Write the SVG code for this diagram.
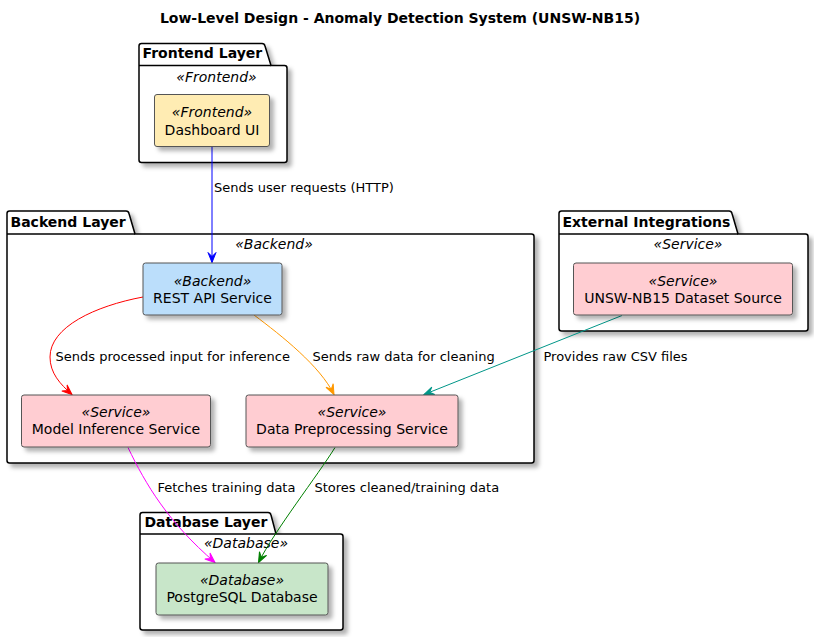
<svg xmlns="http://www.w3.org/2000/svg" width="814" height="637" viewBox="0 0 814 637">
<style>
  text { font-family: "DejaVu Sans", "Liberation Sans", sans-serif; fill: #000; }
  .title { font-size: 14px; font-weight: bold; }
  .pkg { fill: #fff; stroke: #000; stroke-width: 1.5; }
  .pkgline { fill: none; stroke: #000; stroke-width: 1.5; }
  .tab { font-size: 14px; font-weight: bold; }
  .ster { font-size: 14px; font-style: italic; text-anchor: middle; }
  .name { font-size: 14px; text-anchor: middle; }
  .node { stroke: #555; stroke-width: 1; }
  .fe { fill: #FFECB3; }
  .be { fill: #BBDEFB; }
  .sv { fill: #FFCDD2; }
  .db { fill: #C8E6C9; }
  .lbl { font-size: 13px; }
  .edge { fill: none; stroke-width: 1; }
</style>
<defs>
  <filter id="shadow" x="-10%" y="-10%" width="130%" height="140%">
    <feDropShadow dx="4" dy="4" stdDeviation="2" flood-color="#000" flood-opacity="0.3"/>
  </filter>
  <marker id="ah-blue" viewBox="-11 -6 12 12" markerWidth="12" markerHeight="12" refX="0" refY="0" orient="auto" markerUnits="userSpaceOnUse"><path d="M0,0 L-10,-4 L-6,0 L-10,4 Z" fill="#0000FF" stroke="#0000FF" stroke-width="1"/></marker>
  <marker id="ah-red" viewBox="-11 -6 12 12" markerWidth="12" markerHeight="12" refX="0" refY="0" orient="auto" markerUnits="userSpaceOnUse"><path d="M0,0 L-10,-4 L-6,0 L-10,4 Z" fill="#FF0000" stroke="#FF0000" stroke-width="1"/></marker>
  <marker id="ah-orange" viewBox="-11 -6 12 12" markerWidth="12" markerHeight="12" refX="0" refY="0" orient="auto" markerUnits="userSpaceOnUse"><path d="M0,0 L-10,-4 L-6,0 L-10,4 Z" fill="#FF9800" stroke="#FF9800" stroke-width="1"/></marker>
  <marker id="ah-teal" viewBox="-11 -6 12 12" markerWidth="12" markerHeight="12" refX="0" refY="0" orient="auto" markerUnits="userSpaceOnUse"><path d="M0,0 L-10,-4 L-6,0 L-10,4 Z" fill="#009688" stroke="#009688" stroke-width="1"/></marker>
  <marker id="ah-magenta" viewBox="-11 -6 12 12" markerWidth="12" markerHeight="12" refX="0" refY="0" orient="auto" markerUnits="userSpaceOnUse"><path d="M0,0 L-10,-4 L-6,0 L-10,4 Z" fill="#FF00FF" stroke="#FF00FF" stroke-width="1"/></marker>
  <marker id="ah-green" viewBox="-11 -6 12 12" markerWidth="12" markerHeight="12" refX="0" refY="0" orient="auto" markerUnits="userSpaceOnUse"><path d="M0,0 L-10,-4 L-6,0 L-10,4 Z" fill="#008000" stroke="#008000" stroke-width="1"/></marker>
</defs>

<rect width="814" height="637" fill="#fff"/>
<text class="title" x="400" y="23" text-anchor="middle">Low-Level Design - Anomaly Detection System (UNSW-NB15)</text>

<!-- Packages -->
<g id="pkg-frontend">
  <path class="pkg" filter="url(#shadow)" d="M141.5,43.5 L262,43.5 Q264.5,43.5 265,46 L271,65.5 L284.5,65.5 Q287,65.5 287,68 L287,160 Q287,162.5 284.5,162.5 L141.5,162.5 Q139,162.5 139,160 L139,46 Q139,43.5 141.5,43.5 Z"/>
  <path class="pkgline" d="M139,65.5 L271,65.5"/>
  <text class="tab" x="142.5" y="57.5">Frontend Layer</text>
  <text class="ster" x="216.5" y="81.5">«Frontend»</text>
</g>
<g id="pkg-backend">
  <path class="pkg" filter="url(#shadow)" d="M9.5,211 L126,211 Q128.5,211 129,213.5 L135,234 L531.5,234 Q534,234 534,236.5 L534,460.5 Q534,463 531.5,463 L9.5,463 Q7,463 7,460.5 L7,213.5 Q7,211 9.5,211 Z"/>
  <path class="pkgline" d="M7,234 L135,234"/>
  <text class="tab" x="10.5" y="227">Backend Layer</text>
  <text class="ster" x="274" y="249">«Backend»</text>
</g>
<g id="pkg-external">
  <path class="pkg" filter="url(#shadow)" d="M561.5,211 L729,211 Q731.5,211 732,213.5 L738,234 L805.5,234 Q808,234 808,236.5 L808,328.5 Q808,331 805.5,331 L561.5,331 Q559,331 559,328.5 L559,213.5 Q559,211 561.5,211 Z"/>
  <path class="pkgline" d="M559,234 L738,234"/>
  <text class="tab" x="562.5" y="227">External Integrations</text>
  <text class="ster" x="688" y="249">«Service»</text>
</g>
<g id="pkg-database">
  <path class="pkg" filter="url(#shadow)" d="M142.5,512.5 L268,512.5 Q270.5,512.5 271,515 L276,534 L340.5,534 Q343,534 343,536.5 L343,627.5 Q343,630 340.5,630 L142.5,630 Q140,630 140,627.5 L140,515 Q140,512.5 142.5,512.5 Z"/>
  <path class="pkgline" d="M140,534 L276,534"/>
  <text class="tab" x="144.5" y="527">Database Layer</text>
  <text class="ster" x="246" y="548">«Database»</text>
</g>

<!-- Connectors -->
<g id="connectors">
  <path class="edge" stroke="#0000FF" marker-end="url(#ah-blue)" d="M212,146 L212,262.5"/>
  <text class="lbl" x="214" y="191.5">Sends user requests (HTTP)</text>

  <path class="edge" stroke="#FF0000" marker-end="url(#ah-red)" d="M143,297 C95,306 50,327 50,357 C50,373 60,384 72,394.5"/>
  <text class="lbl" x="55.5" y="361">Sends processed input for inference</text>

  <path class="edge" stroke="#FF9800" marker-end="url(#ah-orange)" d="M254,315 C282,336 320,366 334,394.5"/>
  <text class="lbl" x="312.5" y="361">Sends raw data for cleaning</text>

  <path class="edge" stroke="#009688" marker-end="url(#ah-teal)" d="M622,315.5 L424,394.5"/>
  <text class="lbl" x="543.5" y="360.5">Provides raw CSV files</text>

  <path class="edge" stroke="#FF00FF" marker-end="url(#ah-magenta)" d="M128,447.5 C146,485 168,522 215,562.5"/>
  <text class="lbl" x="157.5" y="492">Fetches training data</text>

  <path class="edge" stroke="#008000" marker-end="url(#ah-green)" d="M335,447.5 C318,475 275,530 258.5,562.5"/>
  <text class="lbl" x="314.5" y="492">Stores cleaned/training data</text>
</g>

<!-- Nodes -->
<g id="dashboard-ui">
  <rect class="node fe" filter="url(#shadow)" x="154.5" y="94.5" width="115" height="52" rx="2.5"/>
  <text class="ster" x="212" y="117">«Frontend»</text>
  <text class="name" x="212" y="134.5">Dashboard UI</text>
</g>
<g id="rest-api">
  <rect class="node be" filter="url(#shadow)" x="143" y="263" width="139" height="52" rx="2.5"/>
  <text class="ster" x="212.5" y="285.5">«Backend»</text>
  <text class="name" x="212.5" y="302.5">REST API Service</text>
</g>
<g id="model-inference">
  <rect class="node sv" filter="url(#shadow)" x="21.5" y="395" width="189" height="52" rx="2.5"/>
  <text class="ster" x="116" y="417">«Service»</text>
  <text class="name" x="116" y="434">Model Inference Service</text>
</g>
<g id="data-preprocessing">
  <rect class="node sv" filter="url(#shadow)" x="246" y="395" width="212" height="52" rx="2.5"/>
  <text class="ster" x="352" y="417">«Service»</text>
  <text class="name" x="352" y="434">Data Preprocessing Service</text>
</g>
<g id="unsw-source">
  <rect class="node sv" filter="url(#shadow)" x="573.5" y="263" width="219" height="52" rx="2.5"/>
  <text class="ster" x="683" y="285.5">«Service»</text>
  <text class="name" x="683" y="302.5">UNSW-NB15 Dataset Source</text>
</g>
<g id="postgresql">
  <rect class="node db" filter="url(#shadow)" x="156" y="563" width="172" height="52" rx="2.5"/>
  <text class="ster" x="242" y="585">«Database»</text>
  <text class="name" x="242" y="602">PostgreSQL Database</text>
</g>
</svg>
